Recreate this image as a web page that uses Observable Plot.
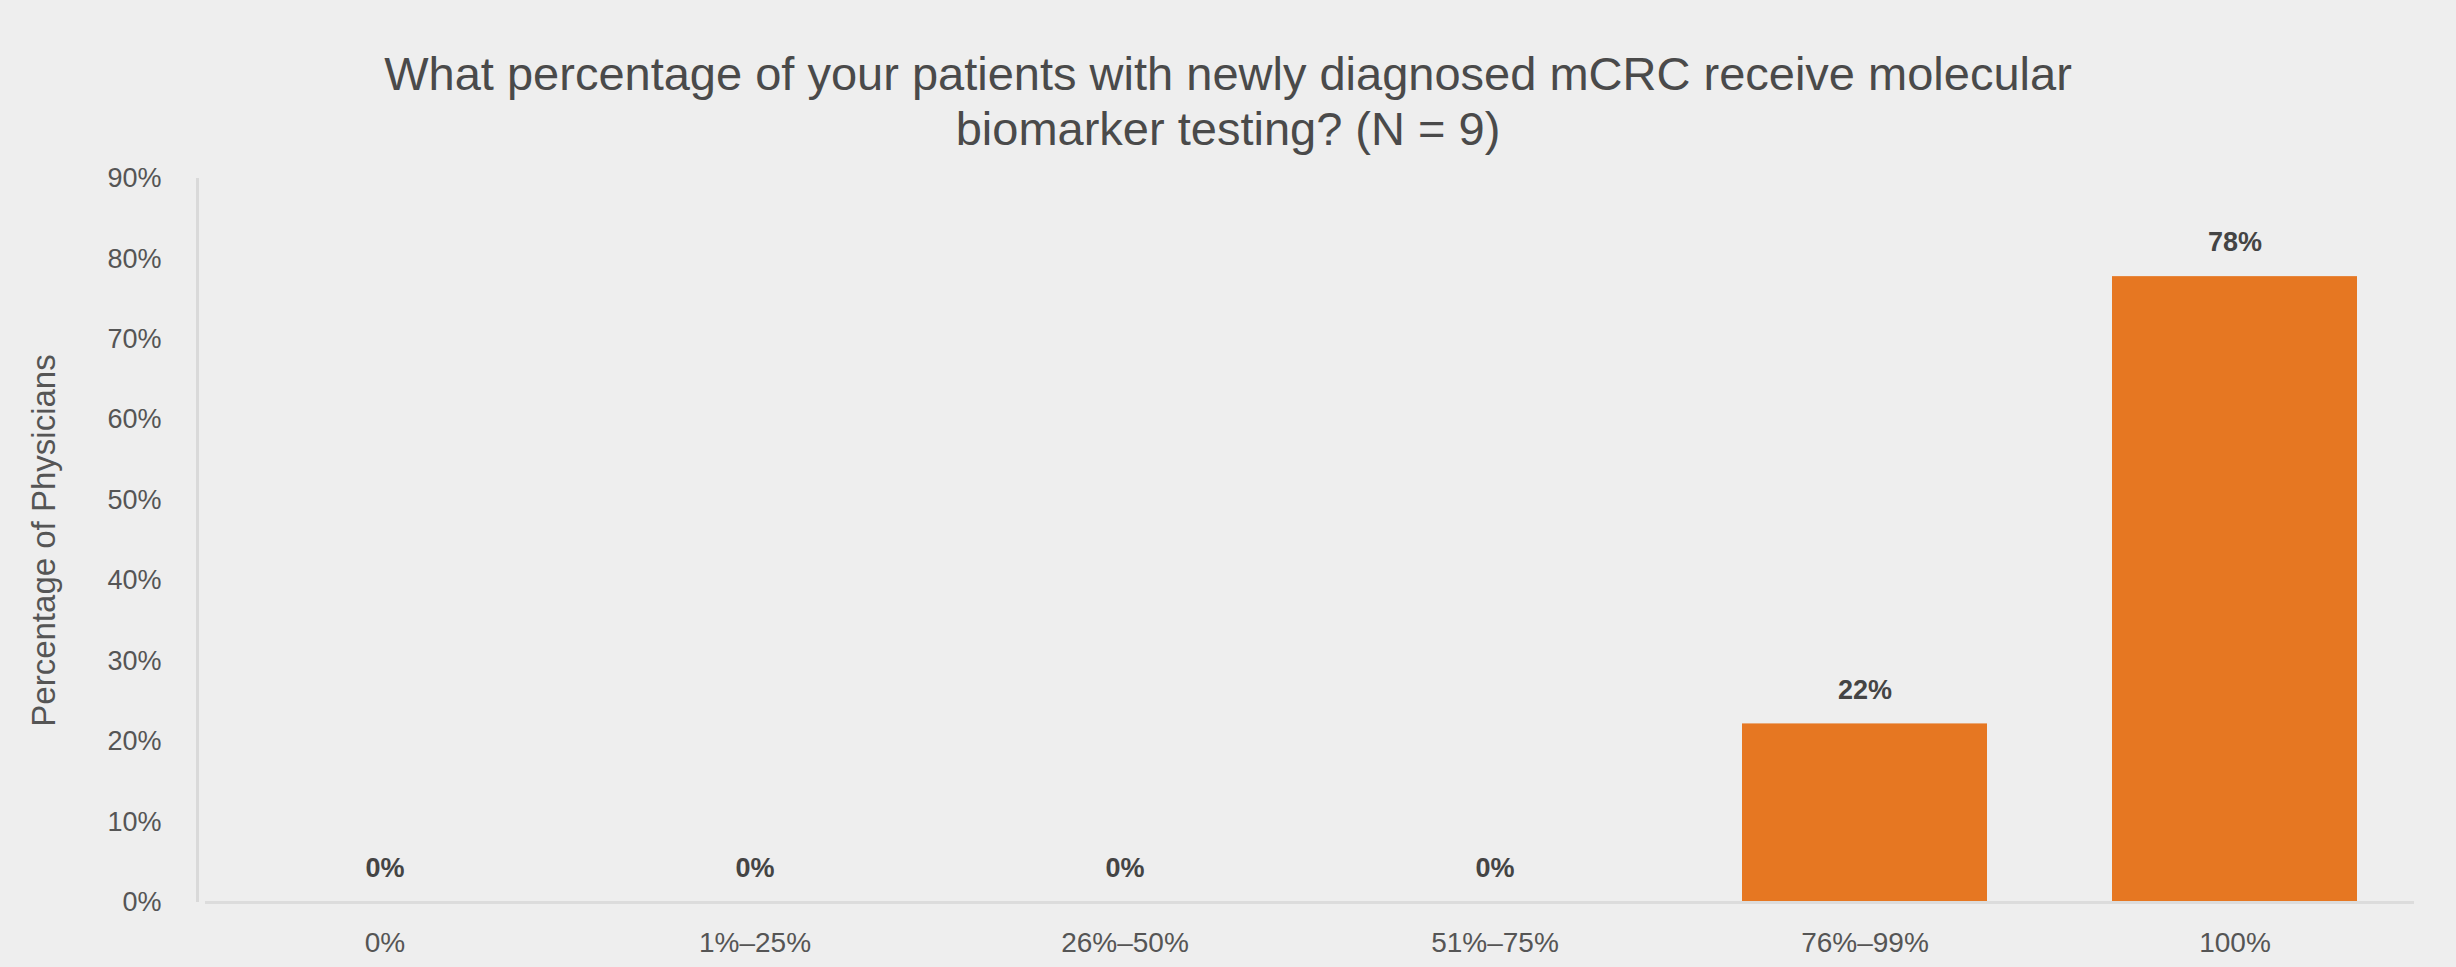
<!DOCTYPE html>
<html>
<head>
<meta charset="utf-8">
<script src="https://cdn.jsdelivr.net/npm/d3@7"></script>
<script src="https://cdn.jsdelivr.net/npm/@observablehq/plot@0.6"></script>
<style>
  html, body { margin: 0; padding: 0; background: #eeeeee; }
  body { width: 2456px; height: 967px; overflow: hidden; font-family: "Liberation Sans", Arial, sans-serif; }
  #title { height: 150px; box-sizing: border-box; padding-top: 46px; text-align: center; font-size: 47px; line-height: 55px; color: #4a4a4a; }
  #chart svg { display: block; }
</style>
</head>
<body>
<div id="title">What percentage of your patients with newly diagnosed mCRC receive molecular<br>biomarker testing? (N = 9)</div>
<div id="chart"></div>
<script>
const categories = ["0%", "1%–25%", "26%–50%", "51%–75%", "76%–99%", "100%"];
const values = [0, 0, 0, 0, 22.2, 77.8];
const valueLabels = ["0%", "0%", "0%", "0%", "22%", "78%"];
const yTicks = [0, 10, 20, 30, 40, 50, 60, 70, 80, 90];
const yLabel = "Percentage of Physicians";

const data = categories.map((c, i) => ({category: c, value: values[i], label: valueLabels[i]}));

const W = 2456, ML = 205, MR = 42;
const frameW = W - ML - MR;

const chart = Plot.plot({
  width: W,
  height: 817,
  marginLeft: ML,
  marginRight: MR,
  marginTop: 28,
  marginBottom: 65,
  style: {background: "transparent", fontFamily: "'Liberation Sans', Arial, sans-serif"},
  x: {domain: categories, paddingInner: 0.338, paddingOuter: 0.152},
  y: {domain: [0, 90]},
  marks: [
    Plot.ruleX([0], {x: null, dx: -frameW / 2 - 8, y1: 0, y2: 90, stroke: "#d9d9d9", strokeWidth: 3}),
    Plot.barY(data, {x: "category", y: "value", fill: "#e67722"}),
    Plot.ruleY([0], {stroke: "#dcdcdc", strokeWidth: 3}),
    Plot.text(data, {x: "category", y: "value", text: "label", dy: -34, fontSize: 27, fontWeight: "bold", fill: "#444"}),
    Plot.axisY({ticks: yTicks, tickFormat: d => d + "%", tickSize: 0, tickPadding: 44, fontSize: 27, color: "#555", label: null}),
    Plot.axisX({tickSize: 0, tickPadding: 30, fontSize: 28, color: "#555", label: null}),
    Plot.text([yLabel], {frameAnchor: "left", textAnchor: "middle", dx: -161, rotate: -90, fontSize: 33, fill: "#555"})
  ]
});
document.getElementById("chart").appendChild(chart);
</script>
</body>
</html>
